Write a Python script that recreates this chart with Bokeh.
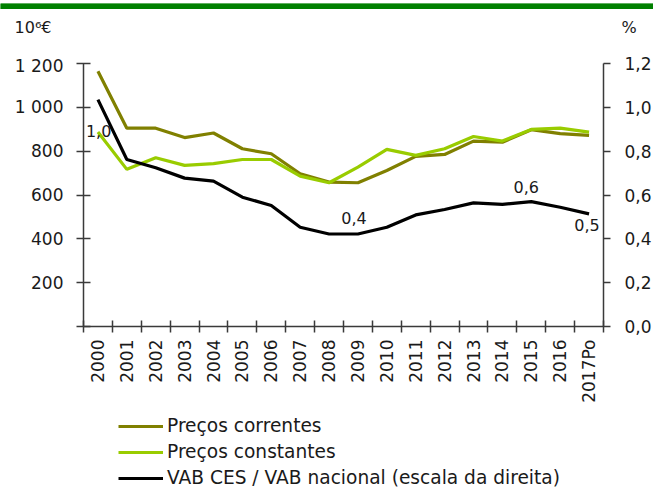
import math
from bokeh.plotting import figure
from bokeh.models import (LinearAxis, Range1d, FixedTicker, Label, Legend, LegendItem)
from bokeh.layouts import column
from bokeh.embed import file_html
from bokeh.resources import INLINE

# ---- data ----
years = ["2000", "2001", "2002", "2003", "2004", "2005", "2006", "2007", "2008",
         "2009", "2010", "2011", "2012", "2013", "2014", "2015", "2016", "2017Po"]
precos_correntes = [1165, 905, 905, 862, 883, 811, 788, 697, 659,
                    656, 712, 776, 785, 846, 841, 898, 880, 872]
precos_constantes = [887, 717, 770, 735, 743, 762, 762, 686, 656,
                     727, 808, 781, 811, 867, 846, 899, 905, 887]
vab_ratio = [1.035, 0.762, 0.724, 0.677, 0.663, 0.590, 0.552, 0.453, 0.422,
             0.422, 0.453, 0.509, 0.534, 0.564, 0.557, 0.570, 0.544, 0.514]
left_ticks = [0, 200, 400, 600, 800, 1000, 1200]
left_tick_labels = ["", "200", "400", "600", "800", "1 000", "1 200"]
right_ticks = [0.0, 0.2, 0.4, 0.6, 0.8, 1.0, 1.2]
right_tick_labels = ["0,0", "0,2", "0,4", "0,6", "0,8", "1,0", "1,2"]
point_label_idx = [0, 9, 15, 17]
point_label_text = ["1,0", "0,4", "0,6", "0,5"]
series_names = ["Preços correntes", "Preços constantes",
                "VAB CES / VAB nacional (escala da direita)"]
series_colors = ["#808000", "#99cc00", "#000000"]
left_unit = "10\u2076\u20ac"
right_unit = "%"

FONT = "DejaVu Sans"
FS = "17px"
TXT = "#1a1a1a"
AX = "#3a3a3a"
GREEN = "#008000"
BL, BR, FW = 83, 50, 520
TOTAL_W = BL + FW + BR

n = len(years)
xc = [i + 0.5 for i in range(n)]


def blank_fig(h, xr=None, yr=None, fill="white", fw=FW, bl=BL, br=BR):
    f = figure(frame_width=fw, frame_height=h,
               x_range=xr if xr is not None else Range1d(0, 1),
               y_range=yr if yr is not None else Range1d(0, 1),
               output_backend="svg", toolbar_location=None,
               x_axis_type=None, y_axis_type=None,
               min_border_left=bl, min_border_right=br, min_border_top=0,
               min_border_bottom=0)
    f.outline_line_color = None
    f.xgrid.visible = False
    f.ygrid.visible = False
    f.background_fill_color = fill
    f.border_fill_color = fill
    return f


def style_hidden_axis(ax, standoff, size="16px"):
    ax.axis_line_color = None
    ax.major_tick_line_color = None
    ax.minor_tick_line_color = None
    ax.major_tick_in = 0
    ax.major_tick_out = 0
    ax.major_label_standoff = standoff
    ax.major_label_text_font = FONT
    ax.major_label_text_font_size = size
    ax.major_label_text_color = TXT


# ---- green band (full width) ----
BAR_H = 9
pbar = blank_fig(BAR_H, fill=GREEN, fw=TOTAL_W, bl=0, br=0)
pbar.quad(left=[0], right=[1], bottom=[0], top=[1], fill_color=GREEN, line_color=None)

# ---- unit labels row ----
HEAD_H = 46
phead = blank_fig(HEAD_H, yr=Range1d(0, HEAD_H))
ut = HEAD_H - (27 - BAR_H)
lu = LinearAxis(ticker=FixedTicker(ticks=[ut], minor_ticks=[]),
                major_label_overrides={ut: left_unit})
style_hidden_axis(lu, 32)
phead.add_layout(lu, "left")
ru = LinearAxis(ticker=FixedTicker(ticks=[ut], minor_ticks=[]),
                major_label_overrides={ut: right_unit})
style_hidden_axis(ru, 18)
phead.add_layout(ru, "right")

# ---- main chart ----
p = figure(frame_width=FW, frame_height=263, x_range=Range1d(0, n),
           y_range=Range1d(0, 1200), output_backend="svg", toolbar_location=None,
           min_border_left=BL, min_border_right=BR, min_border_top=8,
           min_border_bottom=78)
p.outline_line_color = None
p.xgrid.visible = False
p.ygrid.visible = False
p.background_fill_color = "white"
p.border_fill_color = "white"
p.extra_y_ranges = {"pct": Range1d(0, 1.2)}

xa = p.xaxis[0]
xa.ticker = FixedTicker(ticks=xc, minor_ticks=list(range(n + 1)))
xa.major_label_overrides = {x: y for x, y in zip(xc, years)}
xa.major_label_orientation = math.pi / 2
xa.major_tick_in = 0
xa.major_tick_out = 0
xa.minor_tick_in = 6
xa.minor_tick_out = 6
xa.minor_tick_line_color = AX
xa.minor_tick_line_width = 1.5
xa.axis_line_color = AX
xa.axis_line_width = 1.5
xa.major_label_standoff = 7
xa.major_label_text_font = FONT
xa.major_label_text_font_size = FS
xa.major_label_text_color = TXT

ya = p.yaxis[0]
ya.ticker = FixedTicker(ticks=left_ticks, minor_ticks=[])
ya.major_label_overrides = {t: s for t, s in zip(left_ticks, left_tick_labels)}
ya.major_tick_in = 7
ya.major_tick_out = 7
ya.minor_tick_line_color = None
ya.major_tick_line_color = AX
ya.major_tick_line_width = 1.5
ya.axis_line_color = AX
ya.axis_line_width = 1.5
ya.major_label_standoff = 13
ya.major_label_text_font = FONT
ya.major_label_text_font_size = FS
ya.major_label_text_color = TXT

ra = LinearAxis(y_range_name="pct")
ra.ticker = FixedTicker(ticks=right_ticks, minor_ticks=[])
ra.major_label_overrides = {t: s for t, s in zip(right_ticks, right_tick_labels)}
ra.major_tick_in = 0
ra.major_tick_out = 7
ra.minor_tick_line_color = None
ra.major_tick_line_color = AX
ra.major_tick_line_width = 1.5
ra.axis_line_color = AX
ra.axis_line_width = 1.5
ra.major_label_standoff = 14
ra.major_label_text_font = FONT
ra.major_label_text_font_size = FS
ra.major_label_text_color = TXT
p.add_layout(ra, "right")

p.line(xc, precos_correntes, line_color=series_colors[0], line_width=3.2)
p.line(xc, precos_constantes, line_color=series_colors[1], line_width=3.2)
p.line(xc, vab_ratio, line_color=series_colors[2], line_width=3.2, y_range_name="pct")

offsets = [(-12, -31, "left"), (-4, 16, "center"), (-5, 15, "center"), (-2, -11, "center")]
for idx, txt, (dx, dy, al) in zip(point_label_idx, point_label_text, offsets):
    p.add_layout(Label(x=xc[idx], y=vab_ratio[idx], y_range_name="pct", text=txt,
                       x_offset=dx, y_offset=dy, text_align=al, text_baseline="middle",
                       text_font=FONT, text_font_size="16px", text_color=TXT))

# ---- legend row (series drawn off-screen, only their legend samples show) ----
LEG_H = 83
pl = blank_fig(LEG_H, xr=Range1d(0, n), yr=Range1d(-2, -1))
items = []
rs = [pl.line(xc, precos_correntes, line_color=series_colors[0], line_width=3.2),
      pl.line(xc, precos_constantes, line_color=series_colors[1], line_width=3.2),
      pl.line(xc, vab_ratio, line_color=series_colors[2], line_width=3.2)]
for name, r in zip(series_names, rs):
    items.append(LegendItem(label=name, renderers=[r]))
legend = Legend(items=items, location=(35, 0), orientation="vertical",
                glyph_width=45, glyph_height=18, label_height=18, spacing=5,
                label_standoff=4, padding=0, margin=0,
                label_text_font=FONT, label_text_font_size="18.6px", label_text_color=TXT,
                border_line_color=None, background_fill_alpha=0)
pl.add_layout(legend, "center")

layout = column(pbar, column(phead, p, pl, spacing=0), spacing=0)
open("out.html", "w").write(file_html(layout, INLINE))
